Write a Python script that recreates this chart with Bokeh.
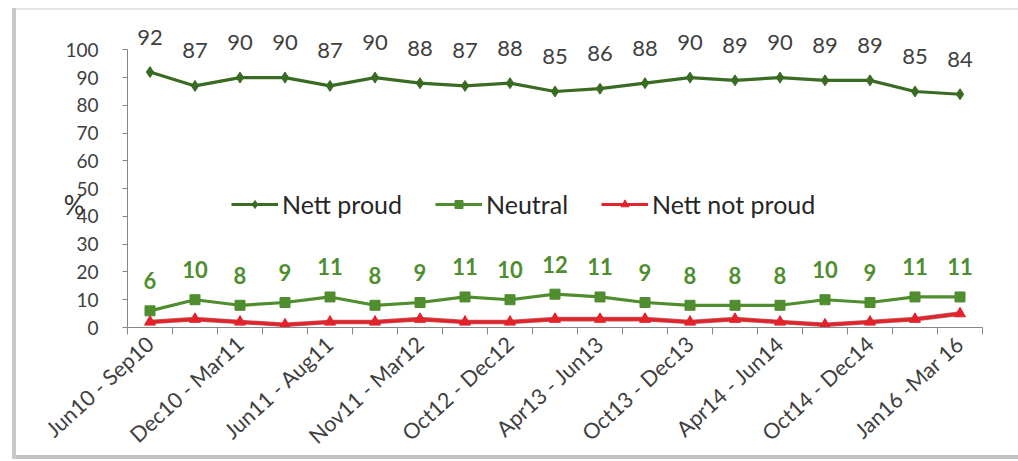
import math
from bokeh.plotting import figure
from bokeh.models import (ColumnDataSource, Range1d, FixedTicker, LabelSet, LinearAxis,
                          Legend, LegendItem)
from bokeh.core.properties import value
from bokeh.embed import file_html
from bokeh.resources import INLINE

# ---------------- data ----------------
periods = list(range(19))
tick_labels = ["Jun10 - Sep10", "Dec10 - Mar11", "Jun11 - Aug11", "Nov11 - Mar12",
               "Oct12 - Dec12", "Apr13 - Jun13", "Oct13 - Dec13", "Apr14 - Jun14",
               "Oct14 - Dec14", "Jan16 -Mar 16"]
nett_proud = [92, 87, 90, 90, 87, 90, 88, 87, 88, 85, 86, 88, 90, 89, 90, 89, 89, 85, 84]
neutral = [6, 10, 8, 9, 11, 8, 9, 11, 10, 12, 11, 9, 8, 8, 8, 10, 9, 11, 11]
nett_not_proud = [2, 3, 2, 1, 2, 2, 3, 2, 2, 3, 3, 3, 2, 3, 2, 1, 2, 3, 5]
y_ticks = list(range(0, 101, 10))
y_title = "%"
y_title_pos = 44

FONT = "Lato"
C_PROUD = "#3a6b22"
C_NEUTRAL = "#4f8d2f"
C_NOT = "#e3232b"
TXT = "#404040"

src = ColumnDataSource(dict(
    x=periods, proud=nett_proud, neutral=neutral, notp=nett_not_proud,
    proud_t=[str(v) for v in nett_proud], neutral_t=[str(v) for v in neutral],
))

p = figure(width=1018, height=461, output_backend="svg", toolbar_location=None,
           x_range=Range1d(-0.5, len(periods) - 0.5), y_range=Range1d(0, 112),
           min_border_left=127, min_border_right=36, min_border_top=16,
           min_border_bottom=134)
p.border_fill_color = None
p.styles = {"box-shadow": ("inset 12px 0 0 #ffffff, inset 0 8px 0 #ffffff, "
                           "inset 0 -2px 0 #ffffff, inset 16px 0 0 #c9c9c9, "
                           "inset 0 10px 0 #e6e6e6, inset 0 -6px 0 #c2c2c2")}
p.outline_line_color = None
p.xgrid.grid_line_color = None
p.ygrid.grid_line_color = None
p.background_fill_color = None

# lines and markers
r1 = p.line("x", "proud", source=src, line_color=C_PROUD, line_width=3.2)
m1 = p.scatter("x", "proud", source=src, marker="diamond", size=11,
               fill_color=C_PROUD, line_color=C_PROUD)
r2 = p.line("x", "neutral", source=src, line_color=C_NEUTRAL, line_width=3.2)
m2 = p.scatter("x", "neutral", source=src, marker="square", size=10,
               fill_color=C_NEUTRAL, line_color=C_NEUTRAL)
p.line("x", "notp", source=src, line_color="#a31818", line_width=4.6, line_alpha=0.7)
r3 = p.line("x", "notp", source=src, line_color=C_NOT, line_width=3)
m3 = p.scatter("x", "notp", source=src, marker="triangle", size=11,
               fill_color=C_NOT, line_color=C_NOT)

# data labels
p.add_layout(LabelSet(x="x", y="proud", text="proud_t", source=src, y_offset=35,
                      text_align="center", text_baseline="middle",
                      text_font=value(FONT), text_font_size="22px", text_color=TXT))
p.add_layout(LabelSet(x="x", y="neutral", text="neutral_t", source=src, y_offset=30,
                      text_align="center", text_baseline="middle",
                      text_font=value(FONT), text_font_size="22px",
                      text_font_style="bold", text_color=C_NEUTRAL))

# axes
xa = p.xaxis[0]
xa.ticker = FixedTicker(ticks=periods[::2],
                        minor_ticks=[i - 0.5 for i in range(len(periods) + 1)])
xa.major_label_overrides = {periods[2 * i]: t for i, t in enumerate(tick_labels)}
xa.major_label_orientation = 0.74
xa.major_tick_out = 0
xa.major_tick_in = 0
xa.minor_tick_out = 7
xa.minor_tick_in = 0
xa.minor_tick_line_color = "#868686"
xa.axis_line_color = "#868686"
xa.major_label_text_font = FONT
xa.major_label_text_font_size = "21.5px"
xa.major_label_text_color = TXT
xa.major_label_standoff = 6

ya = p.yaxis[0]
ya.ticker = FixedTicker(ticks=y_ticks)
ya.bounds = (0, 100)
ya.major_tick_out = 5
ya.major_tick_in = 0
ya.minor_tick_out = 0
ya.minor_tick_in = 0
ya.axis_line_color = "#868686"
ya.major_tick_line_color = "#868686"
ya.major_label_text_font = FONT
ya.major_label_text_font_size = "19px"
ya.major_label_text_color = TXT
ya.major_label_standoff = 24

# "%" axis title, placed as a single upright label on an extra left axis
ta = LinearAxis(ticker=FixedTicker(ticks=[y_title_pos]),
                major_label_overrides={y_title_pos: y_title},
                axis_line_color=None, major_tick_line_color=None,
                minor_tick_line_color=None, major_tick_out=0, major_tick_in=0,
                minor_tick_out=0, minor_tick_in=0,
                major_label_standoff=-22, major_label_text_font=FONT,
                major_label_text_font_size="26px", major_label_text_color="#303030")
p.add_layout(ta, "left")

# legend
legend = Legend(items=[LegendItem(label="Nett proud", renderers=[r1, m1]),
                       LegendItem(label="Neutral", renderers=[r2, m2]),
                       LegendItem(label="Nett not proud", renderers=[r3, m3])],
                orientation="horizontal", location=(104, 108),
                border_line_color=None, background_fill_alpha=0,
                padding=0, margin=0, spacing=33, label_standoff=4,
                glyph_width=47, glyph_height=20,
                label_text_font=FONT, label_text_font_size="25px",
                label_text_color="#262626")
p.add_layout(legend)

open("out.html", "w").write(file_html(p, INLINE))
